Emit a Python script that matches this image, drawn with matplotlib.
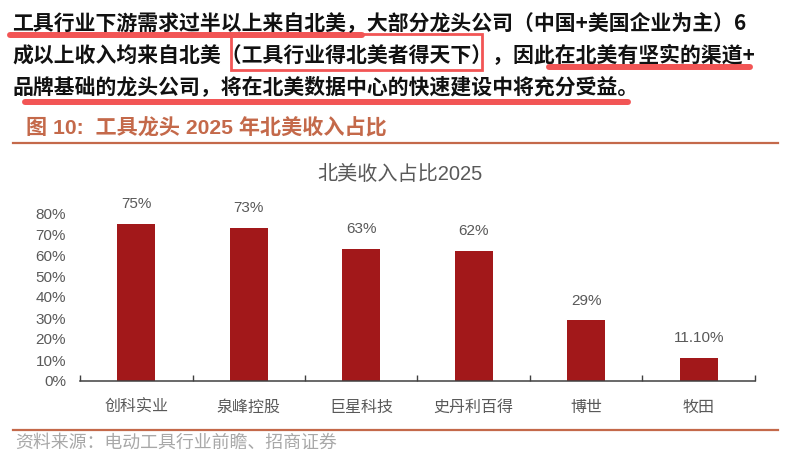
import matplotlib.pyplot as plt
from matplotlib.lines import Line2D
from matplotlib.patches import Rectangle

# === DATA ===
companies = ["创科实业", "泉峰控股", "巨星科技", "史丹利百得", "博世", "牧田"]
na_share = [0.75, 0.73, 0.63, 0.62, 0.29, 0.111]
share_labels = ["75%", "73%", "63%", "62%", "29%", "11.10%"]
y_ticks = [0, 0.1, 0.2, 0.3, 0.4, 0.5, 0.6, 0.7, 0.8]

para_lines = [
    "工具行业下游需求过半以上来自北美，大部分龙头公司（中国+美国企业为主）6",
    "成以上收入均来自北美（工具行业得北美者得天下），因此在北美有坚实的渠道+",
    "品牌基础的龙头公司，将在北美数据中心的快速建设中将充分受益。",
]
fig_title = "图 10:  工具龙头 2025 年北美收入占比"
chart_title = "北美收入占比2025"
source = "资料来源：电动工具行业前瞻、招商证券"

# === STYLE ===
W, H = 789, 471
FONTS = ["Liberation Sans", "Noto Sans CJK SC", "DejaVu Sans"]
CJK = ["Noto Sans CJK SC", "DejaVu Sans"]
plt.rcParams["font.family"] = FONTS
BAR_COLOR = "#A2181A"
GRAY = "#595959"
RUST = "#C4694A"
HILITE = "#F25555"


def px(x, y):
    return x / W, 1 - y / H


fig = plt.figure(figsize=(W / 100, H / 100), dpi=100)

# === PARAGRAPH ===
for i, line in enumerate(para_lines):
    fig.text(*px(12, 24 + i * 31.5), line, family=CJK, fontsize=15.0,
             fontweight="bold", color="#111111", va="center", ha="left")

# underlines + box (hand-drawn highlight marks)
for (x0, x1, y) in [(10, 362, 35), (549, 750, 67), (25, 628, 102)]:
    fig.add_artist(Line2D([x0 / W, x1 / W], [1 - y / H, 1 - y / H],
                          color=HILITE, lw=4.3, solid_capstyle="round"))
bx, by = px(231, 70)
fig.add_artist(Rectangle((bx, by), (482 - 231) / W, (70 - 34) / H,
                         fill=False, edgecolor=HILITE, lw=2.0))

# === FIGURE TITLE ===
fig.text(*px(26, 128), fig_title, family=FONTS, fontsize=15.2,
         fontweight="bold", color=RUST, va="center", ha="left")
fig.add_artist(Line2D([13 / W, 778 / W], [1 - 143 / H] * 2, color=RUST, lw=1.6))
fig.add_artist(Line2D([13 / W, 778 / W], [1 - 430 / H] * 2, color=RUST, lw=1.6))

fig.text(*px(15, 443), source, family=CJK, fontsize=12.9,
         color="#A8A8A8", va="center", ha="left")

# === CHART ===
ax_l, ax_r, ax_b, ax_t = 80, 755, 381, 213
ax = fig.add_axes([ax_l / W, 1 - ax_b / H, (ax_r - ax_l) / W, (ax_b - ax_t) / H])

x = list(range(len(companies)))
bars = ax.bar(x, na_share, width=0.34, color=BAR_COLOR)
for b, lab in zip(bars, share_labels):
    ax.annotate(lab, (b.get_x() + b.get_width() / 2, b.get_height()),
                xytext=(0, 14), textcoords="offset points", ha="center",
                va="center", fontsize=11, color=GRAY, annotation_clip=False)

ax.set_xlim(-0.5, len(companies) - 0.5)
ax.set_ylim(0, 0.8)
ax.set_yticks(y_ticks)
ax.set_yticklabels([f"{int(round(t * 100))}%" for t in y_ticks])
ax.set_xticks(x)
ax.set_xticklabels(companies, family=CJK)
ax.set_xticks([i - 0.5 for i in range(len(companies) + 1)], minor=True)

for s in ["top", "right", "left"]:
    ax.spines[s].set_visible(False)
ax.spines["bottom"].set_color("#404040")
ax.spines["bottom"].set_linewidth(1.1)
ax.tick_params(axis="y", length=0, labelsize=11, labelcolor=GRAY, pad=10)
ax.tick_params(axis="x", which="major", length=0, labelsize=11.5,
               labelcolor=GRAY, pad=13)
ax.tick_params(axis="x", which="minor", length=4, direction="in",
               color="#404040", width=1.0)

fig.text(*px(400, 175), chart_title, family=FONTS, fontsize=14.5,
         color=GRAY, va="center", ha="center")

fig.savefig("out.png", dpi=100)
